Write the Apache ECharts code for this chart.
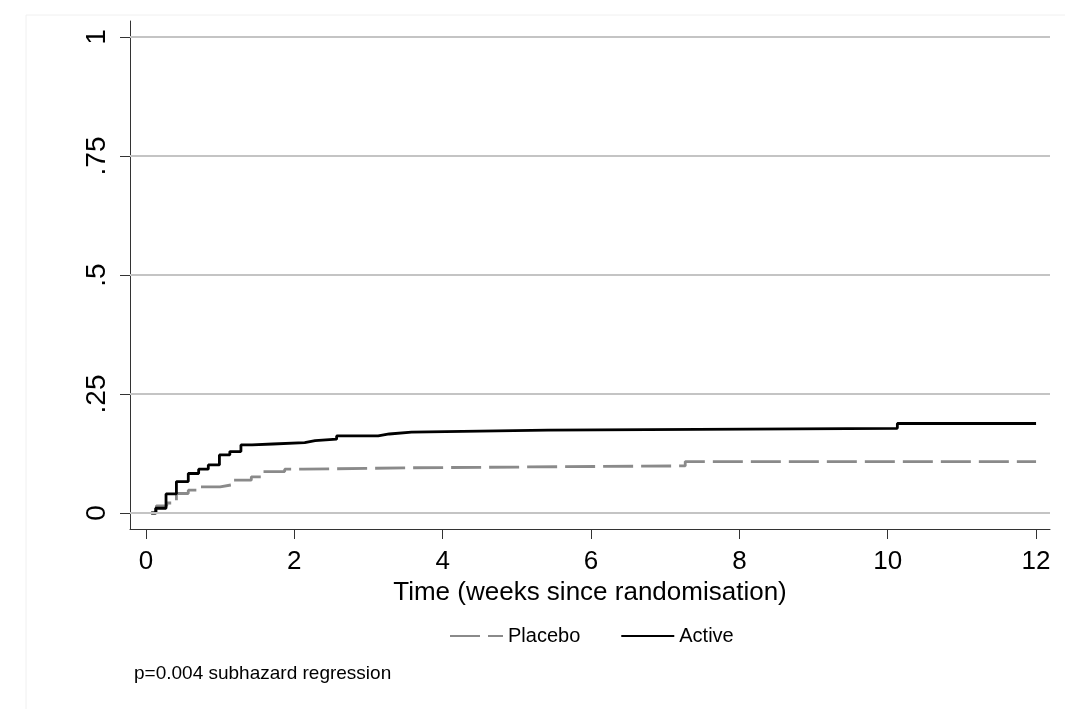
<!DOCTYPE html>
<html><head><meta charset="utf-8">
<script src="https://cdn.jsdelivr.net/npm/echarts@6/dist/echarts.min.js"></script>
<style>html,body{margin:0;padding:0;background:#fff}#c{width:1065px;height:709px}</style>
</head><body><div id="c"></div>
<script>
// Tick values and labels
const xTicks = [0, 2, 4, 6, 8, 10, 12];
const yTicks = [0, 0.25, 0.5, 0.75, 1];
const yTickLabels = ['0', '.25', '.5', '.75', '1'];

// Cumulative incidence (step points: time, value after step)
const placeboTime  = [0.07, 0.14, 0.28, 0.41, 0.57, 0.73, 1.00, 1.15, 1.42, 1.56, 1.87, 2.12, 3.55, 7.27, 12.0];
const placeboValue = [0, 0.015, 0.021, 0.041, 0.048, 0.055, 0.059, 0.069, 0.076, 0.087, 0.092, 0.095, 0.099, 0.108, 0.108];

const activeTime  = [0.07, 0.13, 0.27, 0.41, 0.57, 0.71, 0.84, 0.99, 1.13, 1.28, 1.43, 1.71, 2.14, 2.28, 2.57, 3.13, 3.28, 3.58, 5.42, 10.13, 12.0];
const activeValue = [0, 0.010, 0.040, 0.066, 0.083, 0.092, 0.101, 0.122, 0.129, 0.143, 0.145, 0.148, 0.152, 0.155, 0.162, 0.166, 0.170, 0.174, 0.178, 0.188, 0.188];

const seriesNames = ['Placebo', 'Active'];
const xTitle = 'Time (weeks since randomisation)';
const footnote = 'p=0.004 subhazard regression';

const font = '"Liberation Sans", Arial, Helvetica, sans-serif';
const zip = (a, b) => a.map((t, i) => [t, b[i]]);

const chart = echarts.init(document.getElementById('c'), null, {renderer: 'canvas'});
chart.setOption({
  animation: false,
  backgroundColor: '#ffffff',
  grid: {left: 130, right: 15, top: 21, bottom: 180, containLabel: false},
  xAxis: {
    type: 'value', min: -0.2157, max: 12.188,
    axisLine: {show: true, onZero: false, lineStyle: {color: '#333', width: 1}},
    axisTick: {show: true, length: 10, customValues: xTicks, lineStyle: {color: '#333', width: 1}},
    axisLabel: {customValues: xTicks, fontSize: 26, color: '#000', margin: 20, fontFamily: font},
    splitLine: {show: false},
    name: xTitle, nameLocation: 'middle', nameGap: 37,
    nameTextStyle: {fontSize: 26, color: '#000', fontFamily: font}
  },
  yAxis: {
    type: 'value', min: -0.0336, max: 1.0336,
    axisLine: {show: true, onZero: false, lineStyle: {color: '#333', width: 1}},
    axisTick: {show: true, length: 10, customValues: yTicks, lineStyle: {color: '#333', width: 1}},
    axisLabel: {
      customValues: yTicks, rotate: 90, fontSize: 28, color: '#000', margin: 19, fontFamily: font,
      formatter: v => { const i = yTicks.findIndex(t => Math.abs(t - v) < 1e-9); return i >= 0 ? yTickLabels[i] : String(v); }
    },
    splitLine: {show: false}
  },
  legend: {
    data: seriesNames, left: 444, top: 621, itemWidth: 53, itemHeight: 14, itemGap: 40,
    itemStyle: {opacity: 0},
    textStyle: {fontSize: 20, color: '#000', fontFamily: font}
  },
  graphic: [
    {type: 'rect', silent: true, z: -10, shape: {x: 26, y: 15, width: 1100, height: 720},
     style: {fill: 'none', stroke: '#f0f0f0', lineWidth: 1}},
    {type: 'text', left: 134, top: 664, silent: true,
     style: {text: footnote, fontSize: 19, fill: '#000', fontFamily: font}}
  ],
  series: [
    {
      name: 'grid', type: 'line', data: [], z: 1, silent: true,
      markLine: {
        silent: true, symbol: 'none', animation: false,
        label: {show: false},
        lineStyle: {color: '#c4c4c4', width: 2, type: 'solid'},
        data: yTicks.map(v => ({yAxis: v}))
      }
    },
    {
      name: seriesNames[0], type: 'line', step: 'end', symbol: 'none', z: 3,
      data: zip(placeboTime, placeboValue),
      lineStyle: {color: '#8a8a8a', width: 2.8, type: [30, 8]},
      itemStyle: {color: '#8a8a8a'}
    },
    {
      name: seriesNames[1], type: 'line', step: 'end', symbol: 'none', z: 4,
      data: zip(activeTime, activeValue),
      lineStyle: {color: '#000000', width: 2.8, type: 'solid'},
      itemStyle: {color: '#000000'}
    }
  ]
});
</script>
</body></html>
